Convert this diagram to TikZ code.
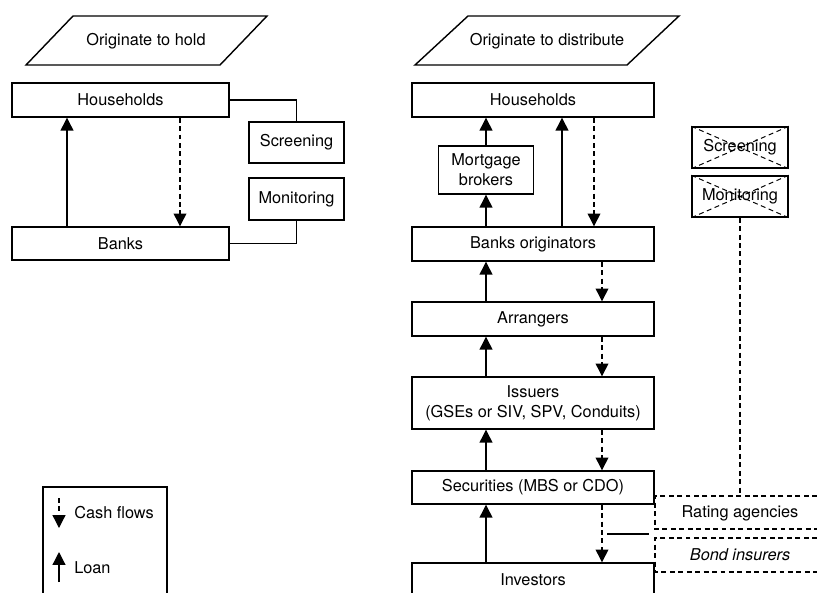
\documentclass[tikz,border=0pt]{standalone}
\usepackage{fontspec}
\setmainfont{TeX Gyre Heros}
\usetikzlibrary{arrows.meta,positioning}

\tikzset{
  box/.style={draw, line width=1pt, minimum height=8.5mm, align=center, inner sep=1pt},
  loan/.style={line width=0.9pt, -{Triangle[length=3.2mm,width=3.2mm]}},
  cash/.style={line width=0.9pt, dash pattern=on 3.5pt off 2.5pt, -{Triangle[length=3.2mm,width=3.2mm]}},
  dline/.style={line width=0.9pt, dash pattern=on 3.5pt off 2.5pt},
  link/.style={line width=0.9pt}
}

\begin{document}
\begin{tikzpicture}[x=0.25mm, y=-0.25mm, font=\fontsize{11.6pt}{14pt}\selectfont]
    \useasboundingbox (0,0) rectangle (817,592);
    % columns for the arrows
    \coordinate (lA) at (67,0);
    \coordinate (lB) at (180,0);
    \coordinate (rA) at (486,0);
    \coordinate (rB) at (562,0);
    \coordinate (rC) at (594,0);
    \coordinate (rD) at (602,0);
    % originate to hold
    \draw[line width=1pt] (26,65) -- (73,16) -- (267,16) -- (220,65) -- cycle;
    \node (hold) at (146,41) {Originate to hold};
    \node[box, minimum width=54.25mm] (hhL) at (120.5,100) {Households};
    \node[box, minimum width=54.25mm, minimum height=8.25mm] (bkL) at (120.5,243.5) {Banks};
    \node[box, minimum width=23.75mm, minimum height=10.25mm] (scrL) at (296.5,142.5) {Screening};
    \node[box, minimum width=23.75mm, minimum height=10.5mm] (monL) at (296.5,199) {Monitoring};
    \draw[loan] (bkL.north -| lA) -- (hhL.south -| lA);
    \draw[cash] (hhL.south -| lB) -- (bkL.north -| lB);
    \draw[link] (hhL.east) -| (scrL.north);
    \draw[link] (bkL.east) -| (monL.south);
    % originate to distribute
    \draw[line width=1pt] (415,65) -- (468,16) -- (679,16) -- (627,65) -- cycle;
    \node (distr) at (547,41) {Originate to distribute};
    \node[box, minimum width=60.5mm] (hhR) at (533,100) {Households};
    \node[box, minimum width=23.75mm, minimum height=12mm] (mb) at (486,170) {Mortgage\\brokers};
    \node[box, minimum width=60.5mm] (bo) at (533,244) {Banks originators};
    \node[box, minimum width=60.5mm] (arr) at (533,319) {Arrangers};
    \node[box, minimum width=60.5mm, minimum height=13mm] (iss) at (533,403) {Issuers\\(GSEs or SIV, SPV, Conduits)};
    \node[box, minimum width=60.5mm, minimum height=8.25mm] (sec) at (533,487.5) {Securities (MBS or CDO)};
    \node[box, minimum width=60.5mm] (inv) at (533,580) {Investors};
    \node[box, minimum width=24mm, minimum height=10.25mm] (scrR) at (740,147.5) {Screening};
    \node[box, minimum width=24mm, minimum height=10.25mm] (monR) at (740,196.5) {Monitoring};
    \draw[dline, line width=0.7pt] (scrR.north west) -- (scrR.south east) (scrR.north east) -- (scrR.south west);
    \draw[dline, line width=0.7pt] (monR.north west) -- (monR.south east) (monR.north east) -- (monR.south west);
    \draw[loan] (mb.north) -- (mb.north |- hhR.south);
    \draw[loan] (bo.north -| mb.south) -- (mb.south);
    \draw[loan] (bo.north -| rB) -- (hhR.south -| rB);
    \draw[cash] (hhR.south -| rC) -- (bo.north -| rC);
    \draw[loan] (arr.north -| rA) -- (bo.south -| rA);
    \draw[cash] (bo.south -| rD) -- (arr.north -| rD);
    \draw[loan] (iss.north -| rA) -- (arr.south -| rA);
    \draw[cash] (arr.south -| rD) -- (iss.north -| rD);
    \draw[loan] (sec.north -| rA) -- (iss.south -| rA);
    \draw[cash] (iss.south -| rD) -- (sec.north -| rD);
    \draw[loan] (inv.north -| rA) -- (sec.south -| rA);
    \draw[cash] (sec.south -| rD) -- (inv.north -| rD);
    % agencies and insurers
    \coordinate (ra) at (655,496);
    \coordinate (ins1) at (607,534);
    \coordinate (ins2) at (649,534);
    \draw[dline] (817,496) -- (ra) -- (655,529) -- (817,529);
    \draw[dline] (817,538) -- (655,538) -- (655,572) -- (817,572);
    \node (rating) at (740,513) {Rating agencies};
    \node (bond) at (740,555) {\itshape Bond insurers};
    \draw[dline] (monR.south) -- (monR.south |- ra);
    \draw[link] (ins1) -- (ins2);
    % legend
    \draw[line width=1pt] (43,600) -- (43,487) -- (167,487) -- (167,600);
    \coordinate (lg1) at (59,498);
    \coordinate (lg2) at (59,528);
    \coordinate (lg3) at (59,582);
    \coordinate (lg4) at (59,552);
    \draw[cash] (lg1) -- (lg2);
    \draw[loan] (lg3) -- (lg4);
    \node[anchor=west, inner sep=0pt] (cashtxt) at (74,513) {Cash flows};
    \node[anchor=west, inner sep=0pt] (loantxt) at (74,568) {Loan};
\end{tikzpicture}
\end{document}
